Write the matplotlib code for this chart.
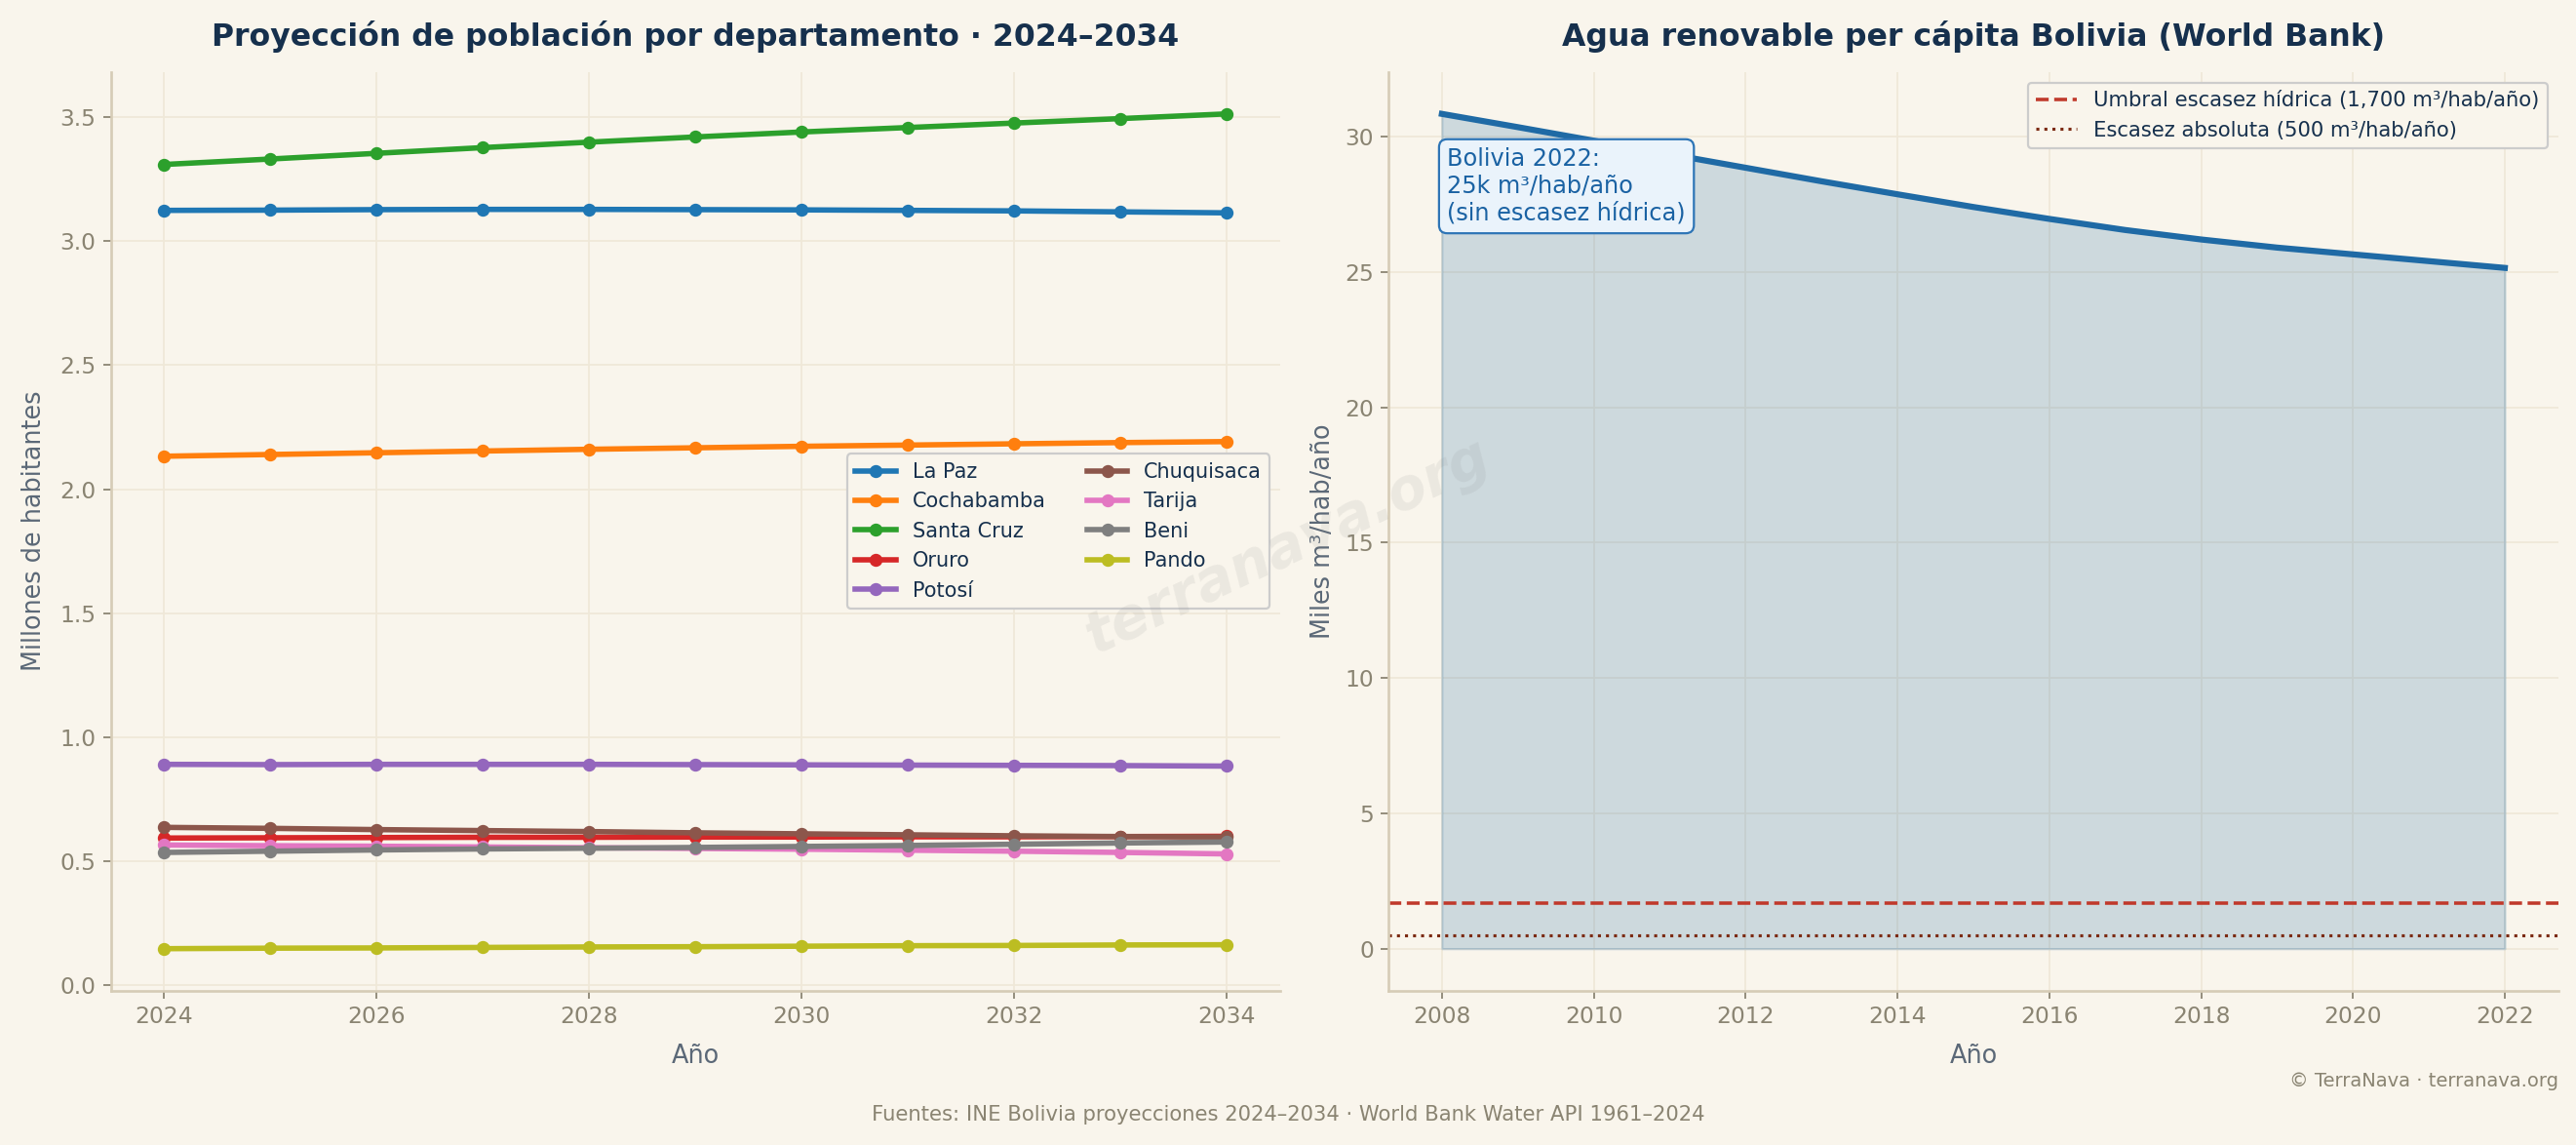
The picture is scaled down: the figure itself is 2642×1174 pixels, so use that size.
import matplotlib.pyplot as plt

# Proyección de población por departamento (millones)
anios = list(range(2024, 2035))
departamentos = ['La Paz', 'Cochabamba', 'Santa Cruz', 'Oruro', 'Potosí',
                 'Chuquisaca', 'Tarija', 'Beni', 'Pando']
la_paz = [3.124, 3.125, 3.127, 3.128, 3.128, 3.127, 3.126, 3.124, 3.122, 3.118, 3.114]
cochabamba = [2.133, 2.140, 2.147, 2.154, 2.161, 2.167, 2.173, 2.178, 2.183, 2.188, 2.192]
santa_cruz = [3.309, 3.331, 3.354, 3.377, 3.399, 3.420, 3.440, 3.458, 3.476, 3.494, 3.513]
oruro = [0.594, 0.595, 0.596, 0.597, 0.597, 0.598, 0.598, 0.599, 0.599, 0.600, 0.601]
potosi = [0.891, 0.890, 0.891, 0.891, 0.891, 0.890, 0.889, 0.888, 0.887, 0.886, 0.884]
chuquisaca = [0.637, 0.633, 0.628, 0.624, 0.620, 0.615, 0.611, 0.607, 0.603, 0.600, 0.598]
tarija = [0.566, 0.563, 0.561, 0.558, 0.555, 0.552, 0.549, 0.545, 0.541, 0.536, 0.530]
beni = [0.536, 0.541, 0.546, 0.550, 0.553, 0.556, 0.560, 0.564, 0.569, 0.574, 0.578]
pando = [0.148, 0.150, 0.151, 0.153, 0.155, 0.156, 0.158, 0.160, 0.161, 0.163, 0.164]
series = [la_paz, cochabamba, santa_cruz, oruro, potosi, chuquisaca, tarija, beni, pando]

# Agua renovable per cápita (miles m3/hab/año)
anios_agua = list(range(2008, 2023))
agua = [30.84, 30.35, 29.85, 29.35, 28.85, 28.35, 27.87, 27.40, 26.96,
        26.55, 26.20, 25.90, 25.65, 25.40, 25.15]
umbral_escasez = 1.7
escasez_absoluta = 0.5

fondo = '#f9f5ec'
titulo_color = '#16304d'
tick_color = '#8a8472'
label_color = '#5b6877'
spine_color = '#d6ccb6'
grid_color = '#efe8d8'

fig, (ax1, ax2) = plt.subplots(1, 2, figsize=(2642 / 160, 1174 / 160), dpi=160)
fig.patch.set_facecolor(fondo)
fig.subplots_adjust(left=0.043, right=0.993, top=0.937, bottom=0.135, wspace=0.093)

for ax in (ax1, ax2):
    ax.set_facecolor(fondo)
    for s in ['top', 'right']:
        ax.spines[s].set_visible(False)
    for s in ['left', 'bottom']:
        ax.spines[s].set_color(spine_color)
        ax.spines[s].set_linewidth(1.2)
    ax.tick_params(colors=tick_color, labelsize=10.5)
    ax.grid(True, color=grid_color, linewidth=0.8)
    ax.set_axisbelow(True)

# Panel izquierdo
for nombre, valores in zip(departamentos, series):
    ax1.plot(anios, valores, marker='o', markersize=5, linewidth=2.5, label=nombre)
ax1.set_title('Proyección de población por departamento · 2024–2034',
              fontsize=14.2, fontweight='bold', color=titulo_color, pad=12)
ax1.set_xlabel('Año', fontsize=11.5, color=label_color, labelpad=7)
ax1.set_ylabel('Millones de habitantes', fontsize=11.5, color=label_color, labelpad=6)
ax1.set_xticks(range(2024, 2035, 2))
leg1 = ax1.legend(loc='center right', ncol=2, fontsize=9.4, facecolor=fondo,
                  edgecolor='#cccccc', framealpha=1)
for t in leg1.get_texts():
    t.set_color(titulo_color)

# Panel derecho
azul = '#1f6aa5'
ax2.plot(anios_agua, agua, color=azul, linewidth=2.8)
ax2.fill_between(anios_agua, agua, 0, color=azul, alpha=0.2)
ax2.axhline(umbral_escasez, color='#c0392b', linestyle='--', linewidth=1.6,
            label='Umbral escasez hídrica (1,700 m³/hab/año)')
ax2.axhline(escasez_absoluta, color='#7b2a12', linestyle=':', linewidth=1.4,
            label='Escasez absoluta (500 m³/hab/año)')
ax2.set_title('Agua renovable per cápita Bolivia (World Bank)',
              fontsize=14.2, fontweight='bold', color=titulo_color, pad=12)
ax2.set_xlabel('Año', fontsize=11.5, color=label_color, labelpad=7)
ax2.set_ylabel('Miles m³/hab/año', fontsize=11.5, color=label_color)
ax2.set_xticks(range(2008, 2023, 2))
leg2 = ax2.legend(loc='upper right', fontsize=9.5, facecolor=fondo,
                  edgecolor='#cccccc', framealpha=1)
for t in leg2.get_texts():
    t.set_color(titulo_color)
ax2.text(0.05, 0.918, 'Bolivia 2022:\n25k m³/hab/año\n(sin escasez hídrica)',
         transform=ax2.transAxes, fontsize=10.8, color='#1a62a3', va='top', ha='left',
         bbox=dict(boxstyle='round,pad=0.35', facecolor='#eaf3fb', edgecolor='#2e75b6'))

# Marca de agua y pie
fig.text(0.5, 0.522, 'terranava.org', fontsize=26, fontweight='bold', style='italic',
         color='#888888', alpha=0.12, rotation=25, ha='center', va='center')
fig.text(0.5, 0.021, 'Fuentes: INE Bolivia proyecciones 2024–2034 · World Bank Water API 1961–2024',
         fontsize=9.5, color='#8a8472', ha='center')
fig.text(0.993, 0.051, '© TerraNava · terranava.org', fontsize=8.8, color='#8a8472', ha='right')

fig.savefig('out.png', dpi=160, facecolor=fondo)
